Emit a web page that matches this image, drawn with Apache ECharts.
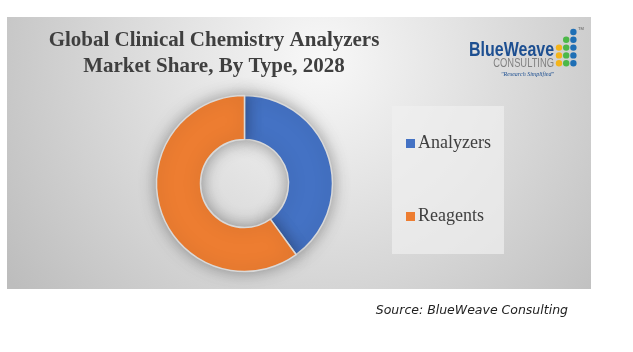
<!DOCTYPE html>
<html>
<head>
<meta charset="utf-8">
<title>Global Clinical Chemistry Analyzers Market Share</title>
<script src="https://cdn.jsdelivr.net/npm/echarts@6/dist/echarts.min.js"></script>
<style>
  html, body { margin: 0; padding: 0; background: #ffffff; }
  #main { width: 633px; height: 352px; }
</style>
</head>
<body>
<div id="main"></div>
<script>
// market share by type, 2028 (%)
var types = ['Analyzers', 'Reagents'];
var shares = [40, 60];
var typeColors = ['#4472c4', '#ed7d31'];

var titleLines = ['Global Clinical Chemistry Analyzers', 'Market Share, By Type, 2028'];
var sourceText = 'Source: BlueWeave Consulting';

// logo dots: [column, row, colour]
var logoDots = [
  [2, 0, '#1f6fb5'],
  [1, 1, '#4cb848'], [2, 1, '#1f6fb5'],
  [0, 2, '#f4b41a'], [1, 2, '#4cb848'], [2, 2, '#1f6fb5'],
  [0, 3, '#f4b41a'], [1, 3, '#4cb848'], [2, 3, '#1f6fb5'],
  [0, 4, '#f4b41a'], [1, 4, '#4cb848'], [2, 4, '#1f6fb5']
];

var chart = echarts.init(document.getElementById('main'), null, { renderer: 'canvas' });

var graphics = [
  {
    type: 'rect',
    z: -10,
    silent: true,
    shape: { x: 7, y: 17, width: 584, height: 272 },
    style: {
      fill: {
        type: 'radial', x: 320, y: 60, r: 380, global: true,
        colorStops: [
          { offset: 0, color: '#f8f8f8' },
          { offset: 0.35, color: '#e4e4e4' },
          { offset: 1, color: '#bdbdbd' }
        ]
      }
    }
  },
  {
    type: 'text', x: 469, y: 50, scaleX: 0.8, silent: true,
    style: {
      text: 'BlueWeave', fill: '#1d4f91', verticalAlign: 'middle',
      font: 'bold 20px "Liberation Sans", sans-serif'
    }
  },
  {
    type: 'text', x: 554, y: 63, scaleX: 0.72, silent: true,
    style: {
      text: 'CONSULTING', fill: '#808080', align: 'right', verticalAlign: 'middle',
      font: '13px "Liberation Sans", sans-serif'
    }
  },
  {
    type: 'text', x: 554, y: 74, silent: true,
    style: {
      text: '"Research Simplified"', fill: '#1d4f91', align: 'right', verticalAlign: 'middle',
      font: 'italic 6px "Liberation Serif", serif'
    }
  },
  {
    type: 'text', x: 578, y: 29, silent: true,
    style: { text: 'TM', fill: '#555555', verticalAlign: 'middle', font: '4px "Liberation Sans", sans-serif' }
  },
  {
    type: 'text', x: 568, y: 311, silent: true,
    style: {
      text: sourceText, fill: '#222222', align: 'right', verticalAlign: 'middle',
      font: 'italic 12.5px "DejaVu Sans", sans-serif'
    }
  }
];

logoDots.forEach(function (d) {
  graphics.push({
    type: 'circle', silent: true,
    shape: { cx: 559 + d[0] * 7.2, cy: 32 + d[1] * 7.8, r: 3.2 },
    style: { fill: d[2] }
  });
});

var option = {
  backgroundColor: '#ffffff',
  animation: false,
  color: typeColors,
  title: {
    text: titleLines.join('\n'),
    left: 214,
    top: 28,
    textAlign: 'center',
    padding: 0,
    textStyle: {
      fontFamily: '"Liberation Serif", serif',
      fontWeight: 'bold',
      fontSize: 21,
      lineHeight: 26,
      color: '#3f3f3f'
    }
  },
  legend: {
    orient: 'vertical',
    left: 392,
    top: 106,
    padding: [27.5, 13, 27.5, 14],
    backgroundColor: 'rgba(240,240,240,0.7)',
    itemWidth: 9,
    itemHeight: 9,
    itemGap: 53,
    icon: 'rect',
    itemStyle: { borderWidth: 0, shadowBlur: 0 },
    data: types,
    textStyle: {
      fontFamily: '"Liberation Serif", serif',
      fontSize: 18,
      lineHeight: 20,
      color: '#404040',
      padding: [0, 0, 0, -2]
    }
  },
  graphic: graphics,
  series: [{
    type: 'pie',
    center: [244.5, 183.5],
    radius: [44, 88],
    startAngle: 90,
    clockwise: true,
    label: { show: false },
    labelLine: { show: false },
    emphasis: { disabled: true },
    itemStyle: {
      borderColor: '#d9d9d9',
      borderWidth: 1.5,
      shadowBlur: 16,
      shadowColor: 'rgba(0,0,0,0.35)'
    },
    data: types.map(function (t, i) {
      return { name: t, value: shares[i] };
    })
  }]
};

chart.setOption(option);
</script>
</body>
</html>
